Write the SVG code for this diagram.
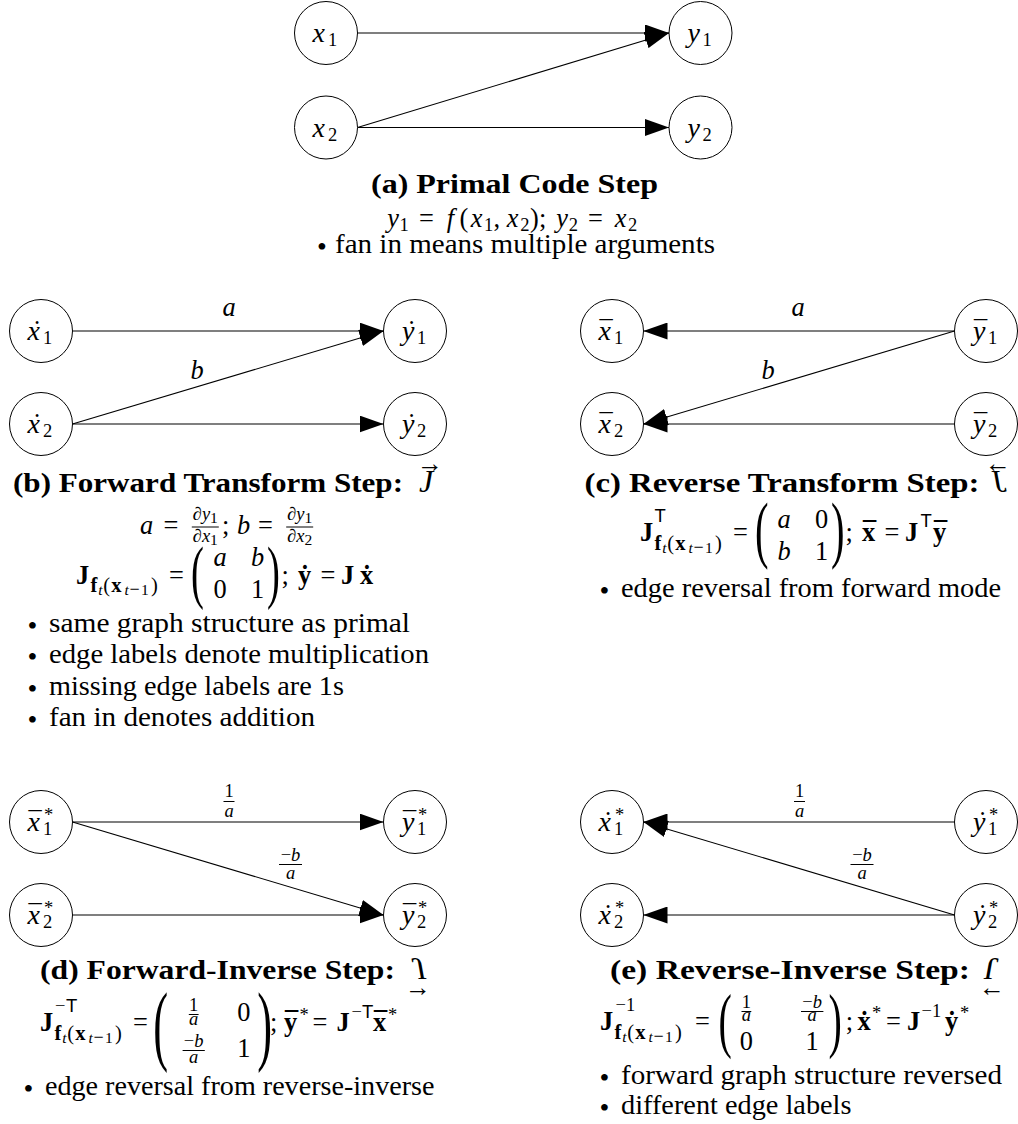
<svg xmlns="http://www.w3.org/2000/svg" width="1018" height="1124" viewBox="0 0 1018 1124">
<defs>
<style>
text{font-family:"Liberation Serif",serif;font-size:26.4px;fill:#000}
.i{font-style:italic}
.b{font-weight:bold}
.s{font-size:18.5px}
.u{font-size:20.5px}
.q{font-size:15.5px}
.mn{font-size:18px}
.sf{font-family:"Liberation Sans",sans-serif}
.m{text-anchor:middle}
.nl{font-style:italic;font-size:28px}
.n{fill:#fff;stroke:#000;stroke-width:1}
.e{fill:none;stroke:#000;stroke-width:1.1;marker-end:url(#ah)}
.fb{stroke:#000;stroke-width:1}
.cap{font-weight:bold}
.bul{font-size:28px;text-anchor:middle}
.sym{font-style:italic;font-size:32px;text-anchor:middle}
.arr{font-size:26px;text-anchor:middle}
</style>
<marker id="ah" viewBox="0 0 24 17" markerWidth="24" markerHeight="17" refX="24" refY="8.5" orient="auto" markerUnits="userSpaceOnUse"><path d="M0,0 L24,8.5 L0,17 Z" fill="#000"/></marker>
</defs>
<rect width="1018" height="1124" fill="#fff"/>

<g id="connectors">
<line class="e" x1="357.5" y1="33" x2="669" y2="33"/>
<line class="e" x1="357.5" y1="127.5" x2="669" y2="33"/>
<line class="e" x1="357.5" y1="127.5" x2="669" y2="127.5"/>
<line class="e" x1="72.5" y1="331" x2="383.5" y2="331"/>
<line class="e" x1="72.5" y1="424" x2="383.5" y2="331"/>
<line class="e" x1="72.5" y1="424" x2="383.5" y2="424"/>
<line class="e" x1="954.5" y1="331" x2="643.5" y2="331"/>
<line class="e" x1="954.5" y1="331" x2="643.5" y2="424"/>
<line class="e" x1="954.5" y1="424" x2="643.5" y2="424"/>
<line class="e" x1="72.5" y1="822" x2="383.5" y2="822"/>
<line class="e" x1="72.5" y1="822" x2="383.5" y2="915"/>
<line class="e" x1="72.5" y1="915" x2="383.5" y2="915"/>
<line class="e" x1="954.5" y1="822" x2="643.5" y2="822"/>
<line class="e" x1="954.5" y1="915" x2="643.5" y2="822"/>
<line class="e" x1="954.5" y1="915" x2="643.5" y2="915"/>
</g>

<g id="edge-labels">
<text class="i m" x="229" y="316">a</text>
<text class="i m" x="197" y="379">b</text>
<text class="i m" x="798" y="316">a</text>
<text class="i m" x="768" y="379">b</text>
<line class="fb" x1="223.5" y1="801.5" x2="234.5" y2="801.5"/>
<text class="s m" x="229" y="797">1</text>
<text class="s i m" x="229" y="817">a</text>
<text class="s m" x="290.5" y="861">−<tspan class="i">b</tspan></text>
<line class="fb" x1="279" y1="864.5" x2="302" y2="864.5"/>
<text class="s i m" x="290.5" y="879">a</text>
<line class="fb" x1="794" y1="801.5" x2="805" y2="801.5"/>
<text class="s m" x="799.5" y="797">1</text>
<text class="s i m" x="799.5" y="817">a</text>
<text class="s m" x="862" y="861">−<tspan class="i">b</tspan></text>
<line class="fb" x1="850.5" y1="864.5" x2="873.5" y2="864.5"/>
<text class="s i m" x="862" y="879">a</text>
</g>

<g id="node-a-x1"><circle class="n" cx="326" cy="33" r="31.5"/><text class="nl" x="312.5" y="42">x</text><text class="s" x="328" y="46">1</text></g>
<g id="node-a-x2"><circle class="n" cx="326" cy="127.5" r="31.5"/><text class="nl" x="312.5" y="136.5">x</text><text class="s" x="328" y="140.5">2</text></g>
<g id="node-a-y1"><circle class="n" cx="700.5" cy="33" r="31.5"/><text class="nl" x="687.5" y="42">y</text><text class="s" x="702.5" y="46">1</text></g>
<g id="node-a-y2"><circle class="n" cx="700.5" cy="127.5" r="31.5"/><text class="nl" x="687.5" y="136.5">y</text><text class="s" x="702.5" y="140.5">2</text></g>

<g id="node-b-x1"><circle class="n" cx="41" cy="331" r="31.5"/><text class="nl" x="27.5" y="340">x</text><text class="i m" x="35.5" y="339">˙</text><text class="s" x="43" y="344">1</text></g>
<g id="node-b-x2"><circle class="n" cx="41" cy="424" r="31.5"/><text class="nl" x="27.5" y="433">x</text><text class="i m" x="35.5" y="432">˙</text><text class="s" x="43" y="437">2</text></g>
<g id="node-b-y1"><circle class="n" cx="415" cy="331" r="31.5"/><text class="nl" x="402" y="340">y</text><text class="i m" x="410" y="339">˙</text><text class="s" x="417" y="344">1</text></g>
<g id="node-b-y2"><circle class="n" cx="415" cy="424" r="31.5"/><text class="nl" x="402" y="433">y</text><text class="i m" x="410" y="432">˙</text><text class="s" x="417" y="437">2</text></g>

<g id="node-c-x1"><circle class="n" cx="612" cy="331" r="31.5"/><text class="nl" x="598.5" y="340">x</text><text class="m" x="606" y="340">¯</text><text class="s" x="614" y="344">1</text></g>
<g id="node-c-x2"><circle class="n" cx="612" cy="424" r="31.5"/><text class="nl" x="598.5" y="433">x</text><text class="m" x="606" y="433">¯</text><text class="s" x="614" y="437">2</text></g>
<g id="node-c-y1"><circle class="n" cx="986" cy="331" r="31.5"/><text class="nl" x="973" y="340">y</text><text class="m" x="980.5" y="340">¯</text><text class="s" x="988" y="344">1</text></g>
<g id="node-c-y2"><circle class="n" cx="986" cy="424" r="31.5"/><text class="nl" x="973" y="433">y</text><text class="m" x="980.5" y="433">¯</text><text class="s" x="988" y="437">2</text></g>

<g id="node-d-x1"><circle class="n" cx="41" cy="822" r="31.5"/><text class="nl" x="27.5" y="831">x</text><text class="m" x="35" y="831">¯</text><text class="s" x="44" y="820.5">*</text><text class="s" x="43" y="835">1</text></g>
<g id="node-d-x2"><circle class="n" cx="41" cy="915" r="31.5"/><text class="nl" x="27.5" y="924">x</text><text class="m" x="35" y="924">¯</text><text class="s" x="44" y="913.5">*</text><text class="s" x="43" y="928">2</text></g>
<g id="node-d-y1"><circle class="n" cx="415" cy="822" r="31.5"/><text class="nl" x="402" y="831">y</text><text class="m" x="409.5" y="831">¯</text><text class="s" x="418" y="820.5">*</text><text class="s" x="417" y="835">1</text></g>
<g id="node-d-y2"><circle class="n" cx="415" cy="915" r="31.5"/><text class="nl" x="402" y="924">y</text><text class="m" x="409.5" y="924">¯</text><text class="s" x="418" y="913.5">*</text><text class="s" x="417" y="928">2</text></g>

<g id="node-e-x1"><circle class="n" cx="612" cy="822" r="31.5"/><text class="nl" x="598.5" y="831">x</text><text class="i m" x="606.5" y="830">˙</text><text class="s" x="615" y="820.5">*</text><text class="s" x="614" y="835">1</text></g>
<g id="node-e-x2"><circle class="n" cx="612" cy="915" r="31.5"/><text class="nl" x="598.5" y="924">x</text><text class="i m" x="606.5" y="923">˙</text><text class="s" x="615" y="913.5">*</text><text class="s" x="614" y="928">2</text></g>
<g id="node-e-y1"><circle class="n" cx="986" cy="822" r="31.5"/><text class="nl" x="973" y="831">y</text><text class="i m" x="981" y="830">˙</text><text class="s" x="989" y="820.5">*</text><text class="s" x="988" y="835">1</text></g>
<g id="node-e-y2"><circle class="n" cx="986" cy="915" r="31.5"/><text class="nl" x="973" y="924">y</text><text class="i m" x="981" y="923">˙</text><text class="s" x="989" y="913.5">*</text><text class="s" x="988" y="928">2</text></g>

<g id="caption-a">
<text class="cap" x="371" y="193" textLength="287" lengthAdjust="spacingAndGlyphs">(a) Primal Code Step</text>
<text y="227"><tspan class="i" x="387.3">y</tspan><tspan class="s" x="399.6" y="231">1</tspan><tspan x="419" y="227">=</tspan><tspan class="i" x="446.7">f</tspan><tspan x="459.4">(</tspan><tspan class="i" x="470.7">x</tspan><tspan class="s" x="484.1" y="231">1</tspan><tspan x="493.4" y="227">,</tspan><tspan class="i" x="506.7">x</tspan><tspan class="s" x="520.2" y="231">2</tspan><tspan x="530.1" y="227">);</tspan><tspan class="i" x="556.3">y</tspan><tspan class="s" x="568.7" y="231">2</tspan><tspan x="588" y="227">=</tspan><tspan class="i" x="614.7">x</tspan><tspan class="s" x="628.1" y="231">2</tspan></text>
<text class="bul" x="322" y="256">•</text>
<text x="335" y="253" textLength="380" lengthAdjust="spacingAndGlyphs">fan in means multiple arguments</text>
</g>

<g id="caption-b">
<text class="cap" x="13" y="492" textLength="390" lengthAdjust="spacingAndGlyphs">(b) Forward Transform Step:</text>
<text class="sym" x="426" y="492">J</text>
<text class="arr" x="430" y="472">→</text>
<text y="534"><tspan class="i" x="140">a</tspan><tspan x="163.6">=</tspan><tspan x="222">;</tspan><tspan class="i" x="237">b</tspan><tspan x="258">=</tspan></text>
<line class="fb" x1="191.8" y1="527" x2="218.8" y2="527"/>
<text class="s m" x="205.3" y="520"><tspan class="i">∂y</tspan><tspan class="q" dy="3">1</tspan></text>
<text class="s m" x="205.3" y="542"><tspan class="i">∂x</tspan><tspan class="q" dy="3">1</tspan></text>
<line class="fb" x1="286.2" y1="527" x2="313.2" y2="527"/>
<text class="s m" x="299.7" y="520"><tspan class="i">∂y</tspan><tspan class="q" dy="3">1</tspan></text>
<text class="s m" x="299.7" y="542"><tspan class="i">∂x</tspan><tspan class="q" dy="3">2</tspan></text>
<text y="584"><tspan class="b" x="76">J</tspan><tspan class="u b" x="90.5" y="592">f</tspan><tspan class="q i" x="98.3" y="595">t</tspan><tspan class="u" x="103.3" y="592">(</tspan><tspan class="u b" x="111.2">x</tspan><tspan class="q i" x="124.5" y="595">t</tspan><tspan class="mn" x="129.5">−</tspan><tspan class="q" x="141">1</tspan><tspan class="u" x="151" y="592">)</tspan><tspan x="169" y="584">=</tspan><tspan x="281.5">;</tspan><tspan class="b" x="298">y</tspan><tspan x="320.5">=</tspan><tspan class="b" x="341">J</tspan><tspan class="b" x="360">x</tspan></text>
<text class="b m" x="305" y="584">˙</text>
<text class="b m" x="367" y="584">˙</text>
<text style="font-size:70.3px" transform="translate(191,594.6) scale(0.55,1)">(</text>
<text style="font-size:70.3px" transform="translate(267,594.6) scale(0.55,1)">)</text>
<text class="i m" x="220" y="566">a</text>
<text class="i m" x="257.5" y="566">b</text>
<text class="m" x="220" y="598">0</text>
<text class="m" x="257.5" y="598">1</text>
<text class="bul" x="32.5" y="634.5">•</text>
<text x="49" y="631.5" textLength="361" lengthAdjust="spacingAndGlyphs">same graph structure as primal</text>
<text class="bul" x="32.5" y="666">•</text>
<text x="49" y="663" textLength="380" lengthAdjust="spacingAndGlyphs">edge labels denote multiplication</text>
<text class="bul" x="32.5" y="697.5">•</text>
<text x="49" y="694.5" textLength="295" lengthAdjust="spacingAndGlyphs">missing edge labels are 1s</text>
<text class="bul" x="32.5" y="729">•</text>
<text x="49" y="726" textLength="266" lengthAdjust="spacingAndGlyphs">fan in denotes addition</text>
</g>

<g id="caption-c">
<text class="cap" x="584.5" y="492" textLength="395" lengthAdjust="spacingAndGlyphs">(c) Reverse Transform Step:</text>
<text class="sym" transform="translate(1000,492) scale(-1,1)">J</text>
<text class="arr" x="998" y="472">←</text>
<text y="541"><tspan class="b" x="640">J</tspan><tspan class="s sf" x="654.5" y="522">T</tspan><tspan class="u b" x="654.5" y="550">f</tspan><tspan class="q i" x="662.3" y="553">t</tspan><tspan class="u" x="667.3" y="550">(</tspan><tspan class="u b" x="675.2">x</tspan><tspan class="q i" x="688.5" y="553">t</tspan><tspan class="mn" x="693.5">−</tspan><tspan class="q" x="705">1</tspan><tspan class="u" x="715" y="550">)</tspan><tspan x="733" y="541">=</tspan><tspan x="845.5">;</tspan><tspan class="b" x="862">x</tspan><tspan x="884.5">=</tspan><tspan class="b" x="905">J</tspan><tspan class="s sf" x="920.5" y="527">T</tspan><tspan class="b" x="933" y="541">y</tspan></text>
<text class="b m" x="869.5" y="541">¯</text>
<text class="b m" x="940.5" y="541">¯</text>
<text style="font-size:73.9px" transform="translate(755,553.9) scale(0.55,1)">(</text>
<text style="font-size:73.9px" transform="translate(831,553.9) scale(0.55,1)">)</text>
<text class="i m" x="784" y="528">a</text>
<text class="m" x="821.5" y="528">0</text>
<text class="i m" x="784" y="560">b</text>
<text class="m" x="821.5" y="560">1</text>
<text class="bul" x="604.5" y="600">•</text>
<text x="621" y="597" textLength="380" lengthAdjust="spacingAndGlyphs">edge reversal from forward mode</text>
</g>

<g id="caption-d">
<text class="cap" x="40" y="979" textLength="355" lengthAdjust="spacingAndGlyphs">(d) Forward-Inverse Step:</text>
<text class="sym" transform="translate(418,958) scale(1,-1)">J</text>
<text class="arr" x="418" y="996">→</text>
<text y="1031"><tspan class="b" x="40">J</tspan><tspan class="s" x="55" y="1012">−</tspan><tspan class="s sf" x="66">T</tspan><tspan class="u b" x="54.5" y="1040">f</tspan><tspan class="q i" x="62.3" y="1043">t</tspan><tspan class="u" x="67.3" y="1040">(</tspan><tspan class="u b" x="75.2">x</tspan><tspan class="q i" x="88.5" y="1043">t</tspan><tspan class="mn" x="93.5">−</tspan><tspan class="q" x="105">1</tspan><tspan class="u" x="115" y="1040">)</tspan><tspan x="133" y="1031">=</tspan><tspan x="270">;</tspan><tspan class="b" x="284.1">y</tspan><tspan class="s" x="299.6" y="1021">*</tspan><tspan x="312.5" y="1031">=</tspan><tspan class="b" x="336.6">J</tspan><tspan class="s" x="351.5" y="1018">−</tspan><tspan class="s sf" x="362">T</tspan><tspan class="b" x="373" y="1031">x</tspan><tspan class="s" x="388.1" y="1021">*</tspan></text>
<text class="b m" x="291.6" y="1031">¯</text>
<text class="b m" x="380.5" y="1031">¯</text>
<text style="font-size:89px" transform="translate(153.3,1054.2) scale(0.5,1)">(</text>
<text style="font-size:89px" transform="translate(257.3,1054.2) scale(0.5,1)">)</text>
<line class="fb" x1="188.8" y1="1014.5" x2="198.6" y2="1014.5"/>
<text class="s m" x="193.7" y="1011">1</text>
<text class="s i m" x="193.7" y="1025">a</text>
<line class="fb" x1="182.6" y1="1050.5" x2="204.8" y2="1050.5"/>
<text class="s m" x="193.7" y="1047">−<tspan class="i">b</tspan></text>
<text class="s i m" x="193.7" y="1063">a</text>
<text class="m" x="243.9" y="1021">0</text>
<text class="m" x="243.9" y="1057">1</text>
<text class="bul" x="28.5" y="1098">•</text>
<text x="45" y="1095" textLength="389.5" lengthAdjust="spacingAndGlyphs">edge reversal from reverse-inverse</text>
</g>

<g id="caption-e">
<text class="cap" x="610" y="979" textLength="360" lengthAdjust="spacingAndGlyphs">(e) Reverse-Inverse Step:</text>
<text class="sym" transform="translate(992,958) scale(-1,-1)">J</text>
<text class="arr" x="992" y="996">←</text>
<text y="1030"><tspan class="b" x="600">J</tspan><tspan class="s" x="615.5" y="1011">−1</tspan><tspan class="u b" x="614.5" y="1039">f</tspan><tspan class="q i" x="622.3" y="1042">t</tspan><tspan class="u" x="627.3" y="1039">(</tspan><tspan class="u b" x="635.2">x</tspan><tspan class="q i" x="648.5" y="1042">t</tspan><tspan class="mn" x="653.5">−</tspan><tspan class="q" x="665">1</tspan><tspan class="u" x="675" y="1039">)</tspan><tspan x="695" y="1030">=</tspan><tspan x="845.7">;</tspan><tspan class="b" x="857.5">x</tspan><tspan class="s" x="872" y="1019">*</tspan><tspan x="886" y="1030">=</tspan><tspan class="b" x="907">J</tspan><tspan class="s" x="921.5" y="1017">−1</tspan><tspan class="b" x="945" y="1030">y</tspan><tspan class="s" x="960" y="1019">*</tspan></text>
<text class="b m" x="864.5" y="1030">˙</text>
<text class="b m" x="952" y="1030">˙</text>
<text style="font-size:72.7px" transform="translate(718.6,1044.1) scale(0.55,1)">(</text>
<text style="font-size:72.7px" transform="translate(828.6,1044.1) scale(0.55,1)">)</text>
<line class="fb" x1="741.5" y1="1011.5" x2="751.3" y2="1011.5"/>
<text class="s m" x="746.4" y="1008">1</text>
<text class="s i m" x="746.4" y="1021">a</text>
<line class="fb" x1="801" y1="1011.5" x2="823.4" y2="1011.5"/>
<text class="s m" x="812.2" y="1008">−<tspan class="i">b</tspan></text>
<text class="s i m" x="812.2" y="1021">a</text>
<text class="m" x="746.4" y="1050">0</text>
<text class="m" x="812.2" y="1050">1</text>
<text class="bul" x="604.5" y="1087">•</text>
<text x="621" y="1084" textLength="381" lengthAdjust="spacingAndGlyphs">forward graph structure reversed</text>
<text class="bul" x="604.5" y="1117">•</text>
<text x="621" y="1114" textLength="230.5" lengthAdjust="spacingAndGlyphs">different edge labels</text>
</g>
</svg>
